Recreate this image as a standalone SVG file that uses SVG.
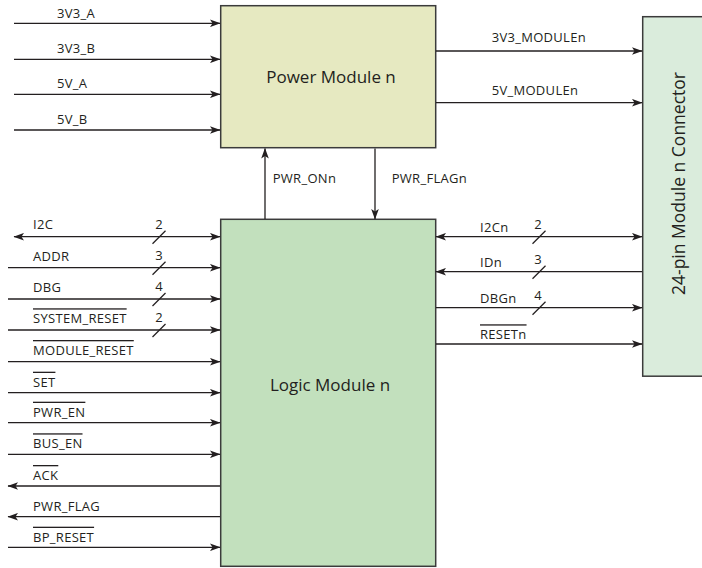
<svg xmlns="http://www.w3.org/2000/svg" width="702" height="568" viewBox="0 0 702 568">
<defs>
<marker id="ah" viewBox="-11 -4 12 8" refX="0" refY="0" markerWidth="12" markerHeight="8" markerUnits="userSpaceOnUse" orient="auto-start-reverse">
<path d="M0.5,0 L-10,-3.8 L-7.5,0 L-10,3.8 Z" fill="#231f20"/>
</marker>
<style>
.box{stroke:#3b3b3b;stroke-width:1.5}
.w{stroke:#231f20;stroke-width:1.3;fill:none}
.a{marker-end:url(#ah)}
.b{marker-start:url(#ah);marker-end:url(#ah)}
.t{font-family:"Open Sans","Liberation Sans",sans-serif;font-size:13px;letter-spacing:0.3px;fill:#231f20}
.n{text-anchor:middle;letter-spacing:0}
.big{font-family:"Open Sans","Liberation Sans",sans-serif;font-size:17px;fill:#231f20;text-anchor:middle}
.ov{text-decoration:overline}
</style>
</defs>
<rect width="702" height="568" fill="#ffffff"/>

<g id="power-module">
<rect class="box" x="220.7" y="5.7" width="215" height="142" fill="#e6e9c1"/>
<text class="big" x="331" y="82.5">Power Module n</text>
</g>

<g id="logic-module">
<rect class="box" x="220.7" y="219.3" width="215" height="347" fill="#c2e0bd"/>
<text class="big" x="330" y="391">Logic Module n</text>
</g>

<g id="connector">
<rect class="box" x="642.7" y="16.7" width="64" height="359.5" fill="#daecdc"/>
<text class="big" transform="translate(685,183.5) rotate(-90)" x="0" y="0" style="font-size:17.5px">24-pin Module n Connector</text>
</g>

<g id="connectors">
<line class="w a" x1="14" y1="23.3" x2="220" y2="23.3"/>
<line class="w a" x1="14" y1="59.3" x2="220" y2="59.3"/>
<line class="w a" x1="14" y1="94.3" x2="220" y2="94.3"/>
<line class="w a" x1="14" y1="130" x2="220" y2="130"/>
<line class="w a" x1="436" y1="51" x2="642" y2="51"/>
<line class="w a" x1="436" y1="102.7" x2="642" y2="102.7"/>
<line class="w a" x1="265" y1="219" x2="265" y2="148.5"/>
<line class="w a" x1="375" y1="148.5" x2="375" y2="219"/>
<line class="w b" x1="14" y1="236.7" x2="220" y2="236.7"/>
<line class="w a" x1="8" y1="267.7" x2="220" y2="267.7"/>
<line class="w a" x1="8" y1="299" x2="220" y2="299"/>
<line class="w a" x1="8" y1="330" x2="220" y2="330"/>
<line class="w a" x1="8" y1="361.7" x2="220" y2="361.7"/>
<line class="w a" x1="8" y1="392.7" x2="220" y2="392.7"/>
<line class="w a" x1="8" y1="422.7" x2="220" y2="422.7"/>
<line class="w a" x1="8" y1="454.3" x2="220" y2="454.3"/>
<line class="w a" x1="220" y1="486" x2="8" y2="486"/>
<line class="w a" x1="220" y1="516.7" x2="8" y2="516.7"/>
<line class="w a" x1="8" y1="547.3" x2="220" y2="547.3"/>
<line class="w b" x1="436" y1="236.7" x2="642" y2="236.7"/>
<line class="w a" x1="642" y1="271.7" x2="436" y2="271.7"/>
<line class="w a" x1="436" y1="307.7" x2="642" y2="307.7"/>
<line class="w a" x1="436" y1="344" x2="642" y2="344"/>
<line class="w" x1="152.5" y1="243.7" x2="165.5" y2="230.7"/>
<line class="w" x1="152.5" y1="274.7" x2="165.5" y2="261.7"/>
<line class="w" x1="152.5" y1="306" x2="165.5" y2="293"/>
<line class="w" x1="152.5" y1="337" x2="165.5" y2="324"/>
<line class="w" x1="532.5" y1="243.7" x2="545.5" y2="230.7"/>
<line class="w" x1="532.5" y1="278.7" x2="545.5" y2="265.7"/>
<line class="w" x1="532.5" y1="314.7" x2="545.5" y2="301.7"/>
</g>

<g id="labels">
<text class="t" x="57" y="18.3">3V3_A</text>
<text class="t" x="57" y="53.3">3V3_B</text>
<text class="t" x="57" y="88.3">5V_A</text>
<text class="t" x="57" y="123.5">5V_B</text>
<text class="t" x="491.7" y="42">3V3_MODULEn</text>
<text class="t" x="491.7" y="95">5V_MODULEn</text>
<text class="t" x="272.7" y="183">PWR_ONn</text>
<text class="t" x="391.7" y="183">PWR_FLAGn</text>

<text class="t" x="33" y="229.3">I2C</text>
<text class="t" x="33" y="261">ADDR</text>
<text class="t" x="33" y="292.3">DBG</text>
<text class="t" x="33" y="323.3"><tspan class="ov">SYSTEM_RESET</tspan></text>
<text class="t" x="33" y="355"><tspan class="ov">MODULE_RESET</tspan></text>
<text class="t" x="33" y="386.7"><tspan class="ov">SET</tspan></text>
<text class="t" x="33" y="416.7"><tspan class="ov">PWR_EN</tspan></text>
<text class="t" x="33" y="448.3"><tspan class="ov">BUS_EN</tspan></text>
<text class="t" x="33" y="480"><tspan class="ov">ACK</tspan></text>
<text class="t" x="33" y="510.7">PWR_FLAG</text>
<text class="t" x="33" y="541.7"><tspan class="ov">BP_RESET</tspan></text>

<text class="t n" x="159" y="228.5">2</text>
<text class="t n" x="159" y="259.5">3</text>
<text class="t n" x="159" y="290.8">4</text>
<text class="t n" x="159" y="321.8">2</text>

<text class="t" x="480" y="231.7">I2Cn</text>
<text class="t" x="480" y="266.7">IDn</text>
<text class="t" x="480" y="303">DBGn</text>
<text class="t" x="480" y="339.3"><tspan class="ov">RESETn</tspan></text>
<text class="t n" x="538" y="229.3">2</text>
<text class="t n" x="538" y="264.3">3</text>
<text class="t n" x="538" y="300.3">4</text>
</g>
</svg>
